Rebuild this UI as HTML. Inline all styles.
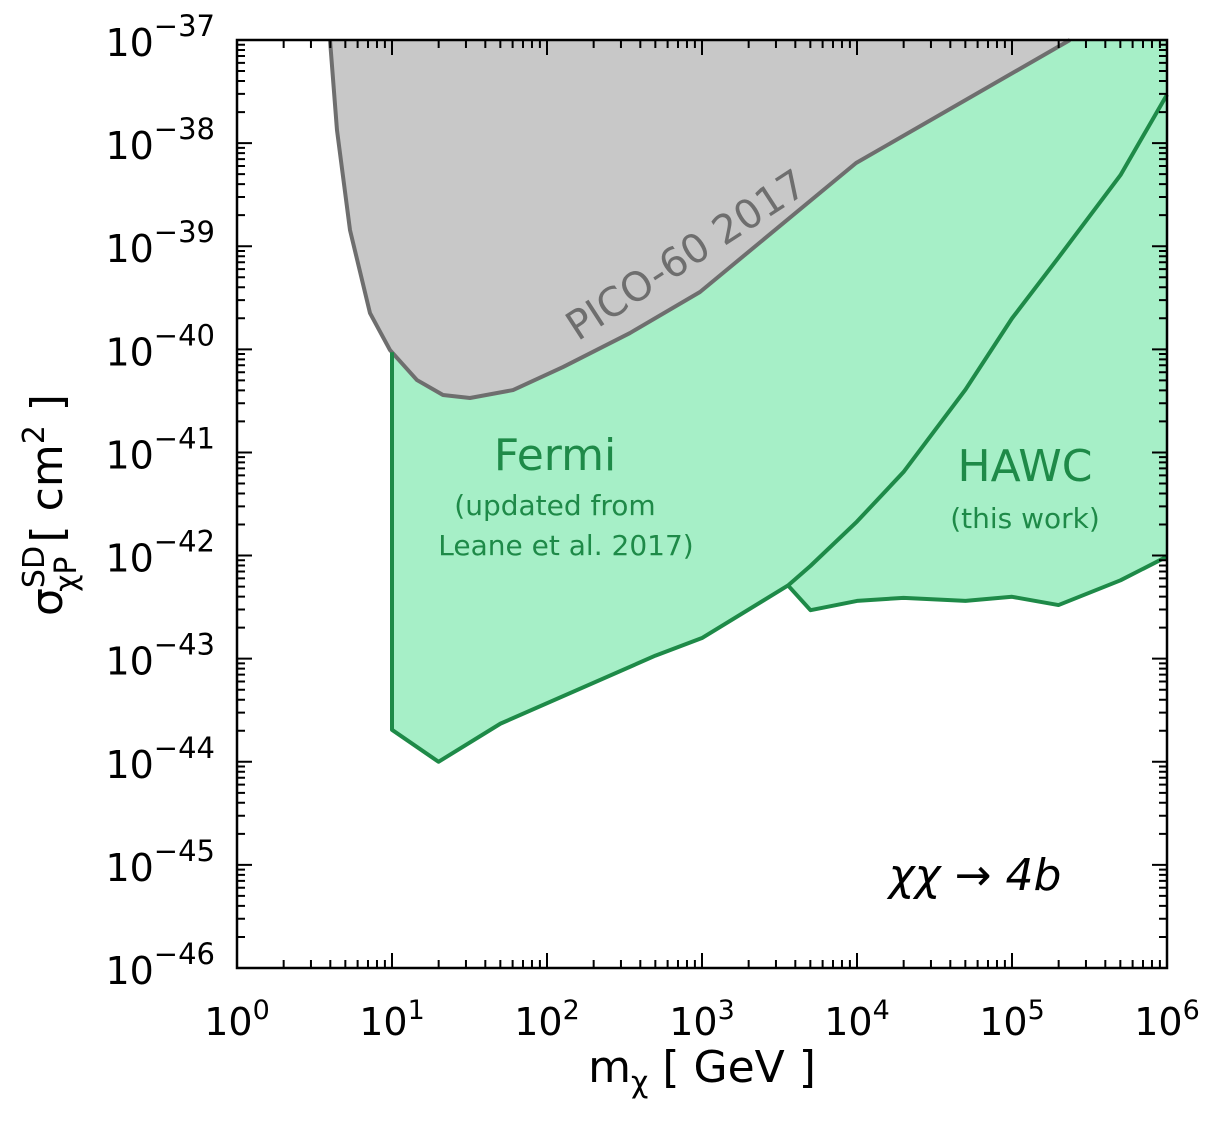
<!DOCTYPE html>
<html><head><meta charset="utf-8"><style>
body{margin:0;background:#fff;}
svg{display:block;font-family:"DejaVu Sans","Liberation Sans",sans-serif;}
</style></head><body>
<svg id="chart" width="1223" height="1121" viewBox="0 0 1223 1121" xmlns="http://www.w3.org/2000/svg">
<g id="plot"></g>
</svg>
<script>
const xTickExps=[0,1,2,3,4,5,6];
const yTickExps=[-37,-38,-39,-40,-41,-42,-43,-44,-45,-46];
const picoLogM=[0.600,0.645,0.729,0.858,0.987,1.161,1.329,1.503,1.781,2.103,2.535,2.987,3.994,5.374];
const picoLogS=[-37.0,-37.873,-38.843,-39.648,-40.007,-40.298,-40.443,-40.472,-40.395,-40.172,-39.842,-39.444,-38.193,-37.0];
const fermiLogM=[1.0,1.3,1.70,2.70,3.0,3.555,3.70,4.0,4.30,4.70,5.0,5.30,5.70,6.0];
const fermiLogS=[-43.69,-44.0,-43.63,-42.97,-42.8,-42.29,-42.10,-41.67,-41.19,-40.39,-39.70,-39.11,-38.31,-37.53];
const hawcLogM=[3.555,3.70,4.0,4.30,4.70,5.0,5.30,5.70,6.0];
const hawcLogS=[-42.29,-42.53,-42.44,-42.41,-42.44,-42.40,-42.48,-42.24,-42.01];

const X0=237,X1=1167,Y0=40,Y1=968;
const xs=lm=>X0+(lm-0)/6*(X1-X0);
const ys=ls=>Y0+(-37-ls)/9*(Y1-Y0);
const NS='http://www.w3.org/2000/svg';
const g=document.getElementById('plot');
function mk(tag,attrs,parent){const e=document.createElementNS(NS,tag);for(const k in attrs)e.setAttribute(k,attrs[k]);(parent||g).appendChild(e);return e;}

// PICO interpolation in log space for Fermi region top edge
function picoAt(lm){for(let i=0;i<picoLogM.length-1;i++){if(lm>=picoLogM[i]&&lm<=picoLogM[i+1]){const t=(lm-picoLogM[i])/(picoLogM[i+1]-picoLogM[i]);return picoLogS[i]+t*(picoLogS[i+1]-picoLogS[i]);}}return -37;}

// gray region
let d='M'+xs(picoLogM[0])+','+ys(picoLogS[0]);
for(let i=1;i<picoLogM.length;i++)d+=' L'+xs(picoLogM[i])+','+ys(picoLogS[i]);
d+=' Z';
let e=mk('path',{d:d,fill:'#c8c8c8',stroke:'none'});



// green region
const startM=fermiLogM[0];
let gd='M'+xs(startM)+','+ys(picoAt(startM));
for(let i=0;i<picoLogM.length;i++){if(picoLogM[i]>startM)gd+=' L'+xs(picoLogM[i])+','+ys(picoLogS[i]);}
gd+=' L'+X1+','+Y0;
for(let i=hawcLogM.length-1;i>=0;i--)gd+=' L'+xs(hawcLogM[i])+','+ys(hawcLogS[i]);
for(let i=fermiLogM.length-1;i>=0;i--){if(fermiLogM[i]<=hawcLogM[0])gd+=' L'+xs(fermiLogM[i])+','+ys(fermiLogS[i]);}
gd+=' Z';
e=mk('path',{d:gd,fill:'#a6efc7',stroke:'none'});



// pico line
let pd='M'+xs(picoLogM[0])+','+ys(picoLogS[0]);
for(let i=1;i<picoLogM.length;i++)pd+=' L'+xs(picoLogM[i])+','+ys(picoLogS[i]);
e=mk('path',{d:pd,fill:'none',stroke:'#6e6e6e','stroke-width':4,'stroke-linejoin':'round'});



// fermi line
let fd='M'+xs(startM)+','+ys(picoAt(startM));
for(let i=0;i<fermiLogM.length;i++)fd+=' L'+xs(fermiLogM[i])+','+ys(fermiLogS[i]);
e=mk('path',{d:fd,fill:'none',stroke:'#1e8a48','stroke-width':4,'stroke-linejoin':'round'});



// hawc line
let hd='M'+xs(hawcLogM[0])+','+ys(hawcLogS[0]);
for(let i=1;i<hawcLogM.length;i++)hd+=' L'+xs(hawcLogM[i])+','+ys(hawcLogS[i]);
e=mk('path',{d:hd,fill:'none',stroke:'#1e8a48','stroke-width':4,'stroke-linejoin':'round'});



// frame
e=mk('rect',{x:X0,y:Y0,width:X1-X0,height:Y1-Y0,fill:'none',stroke:'#000','stroke-width':2.5});



// ticks
let td='';
for(let k=0;k<6;k++){for(let m=1;m<10;m++){const lx=k+Math.log10(m);const px=xs(lx);const L=(m===1)?15:8;td+=`M${px},${Y1}v${-L}M${px},${Y0}v${L}`;}}
td+=`M${X1},${Y1}v-15M${X1},${Y0}v15`;
for(let k=-46;k<-37;k++){for(let m=1;m<10;m++){const ly=k+Math.log10(m);const py=ys(ly);const L=(m===1)?15:8;td+=`M${X0},${py}h${L}M${X1},${py}h${-L}`;}}
td+=`M${X0},${Y0}h15M${X1},${Y0}h-15`;
e=mk('path',{d:td,stroke:'#000','stroke-width':2,fill:'none'});



// tick labels
xTickExps.forEach(k=>{const t=mk('text',{x:xs(k),y:1035,'text-anchor':'middle','font-size':38,fill:'#000'});


t.innerHTML='10<tspan dy="-16" font-size="27">'+k+'</tspan>';});
yTickExps.forEach(k=>{const t=mk('text',{x:215,y:ys(k)+16,'text-anchor':'end','font-size':38,fill:'#000'});


t.innerHTML='10<tspan dy="-20" font-size="29">\u2212'+(-k)+'</tspan>';});
</script>
<svg style="position:absolute;left:0;top:0" width="1223" height="1121">
<text x="688" y="268" transform="rotate(-33 688 258)" text-anchor="middle" font-size="40" fill="#6e6e6e" font-family="DejaVu Sans,sans-serif">PICO-60 2017</text>
<text x="555" y="470" text-anchor="middle" font-size="44" fill="#1e8a48" font-family="DejaVu Sans,sans-serif">Fermi</text>
<text x="555" y="515" text-anchor="middle" font-size="28" fill="#1e8a48" font-family="DejaVu Sans,sans-serif">(updated from</text>
<text x="566" y="555" text-anchor="middle" font-size="28" fill="#1e8a48" font-family="DejaVu Sans,sans-serif">Leane et al. 2017)</text>
<text x="1025" y="481" text-anchor="middle" font-size="44" fill="#1e8a48" font-family="DejaVu Sans,sans-serif">HAWC</text>
<text x="1025" y="528" text-anchor="middle" font-size="28" fill="#1e8a48" font-family="DejaVu Sans,sans-serif">(this work)</text>
<text x="975" y="890" text-anchor="middle" font-size="44" font-style="italic" fill="#000" font-family="DejaVu Sans,sans-serif">χχ → 4b</text>
<text x="702" y="1082" text-anchor="middle" font-size="44" fill="#000" font-family="DejaVu Sans,sans-serif">m<tspan dy="10" font-size="30">χ</tspan><tspan dy="-10"> [ GeV ]</tspan></text>
<text x="0" y="0" transform="translate(62 505) rotate(-90)" text-anchor="middle" font-size="44" fill="#000" font-family="DejaVu Sans,sans-serif">σ<tspan dy="-18" font-size="30">SD</tspan><tspan dx="-46" dy="32" font-size="30">χP</tspan><tspan dy="-14"> [ cm</tspan><tspan dy="-18" font-size="30">2</tspan><tspan dy="18"> ]</tspan></text>
</svg>
</body></html>
